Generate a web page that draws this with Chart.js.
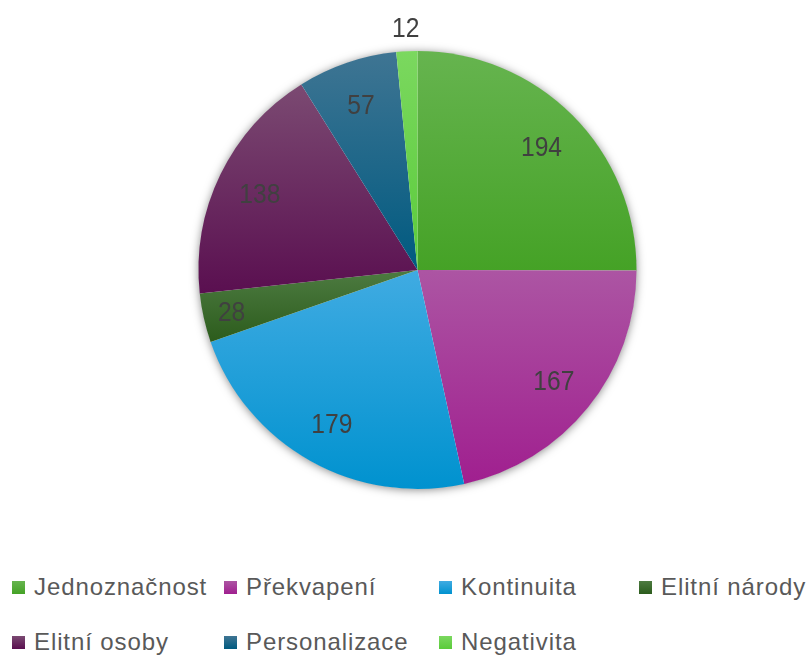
<!DOCTYPE html>
<html>
<head>
<meta charset="utf-8">
<script src="https://cdn.jsdelivr.net/npm/chart.js@4"></script>
<style>
  html, body { margin: 0; padding: 0; background: #ffffff; }
  body { width: 808px; height: 657px; position: relative; overflow: hidden; font-family: "Liberation Sans", Arial, sans-serif; }
  #wrap { position: absolute; left: 0; top: 0; width: 808px; height: 540px; }
  #legend { position: absolute; left: 12px; top: 574px; display: grid; grid-template-columns: 212px 215px 200px 200px; row-gap: 29px; }
  .item { display: flex; align-items: center; height: 26px; font-size: 24px; color: #595959; white-space: nowrap; letter-spacing: 0.9px; }
  .sw { width: 13px; height: 13px; margin-right: 9px; flex: none; }
  .tx { display: inline-block; }
</style>
</head>
<body>
<div id="wrap"><canvas id="c"></canvas></div>
<div id="legend"></div>
<script>
const categories = ["Jednoznačnost", "Překvapení", "Kontinuita", "Elitní národy", "Elitní osoby", "Personalizace", "Negativita"];
const values = [194, 167, 179, 28, 138, 57, 12];
const topColors = ["#66b44f", "#ac55a3", "#40abe2", "#4d7b41", "#7b4a72", "#3f7593", "#7bd85f"];
const bottomColors = ["#45a226", "#a01f8f", "#0092cf", "#2c5c1c", "#5a0f50", "#005a80", "#5acb3a"];
const baseColors = ["#4ea832", "#a42d96", "#18a0da", "#356a26", "#621a58", "#10628a", "#64cf45"];

const total = values.reduce((a, b) => a + b, 0);

function sliceGradient(ctx) {
  const chart = ctx.chart;
  const area = chart.chartArea;
  const i = ctx.dataIndex;
  if (!area || i === undefined) return baseColors[i] || "#888";
  const cx = (area.left + area.right) / 2;
  const cy = (area.top + area.bottom) / 2;
  const r = Math.min(area.right - area.left, area.bottom - area.top) / 2;
  let cum = 0;
  for (let k = 0; k < i; k++) cum += values[k];
  const a0 = cum / total * 2 * Math.PI;
  const a1 = (cum + values[i]) / total * 2 * Math.PI;
  const ys = [cy, cy - r * Math.cos(a0), cy - r * Math.cos(a1)];
  if (a0 <= 0.0001) ys.push(cy - r);
  if (a0 <= Math.PI && a1 >= Math.PI) ys.push(cy + r);
  if (a1 >= 2 * Math.PI - 0.0001) ys.push(cy - r);
  const y0 = Math.min(...ys), y1 = Math.max(...ys);
  const g = chart.ctx.createLinearGradient(0, y0, 0, y1);
  g.addColorStop(0, topColors[i]);
  g.addColorStop(1, bottomColors[i]);
  return g;
}

const shadowPlugin = {
  id: "pieShadow",
  beforeDatasetsDraw(chart) {
    const arc = chart.getDatasetMeta(0).data[0];
    if (!arc) return;
    const ctx = chart.ctx;
    ctx.save();
    ctx.shadowColor = "rgba(0,0,0,0.5)";
    ctx.shadowBlur = 10;
    ctx.shadowOffsetX = 0;
    ctx.shadowOffsetY = 1;
    ctx.fillStyle = "#ffffff";
    ctx.beginPath();
    ctx.arc(arc.x, arc.y, arc.outerRadius - 0.5, 0, Math.PI * 2);
    ctx.fill();
    ctx.restore();
  }
};

const labelPlugin = {
  id: "sliceLabels",
  afterDatasetsDraw(chart) {
    const ctx = chart.ctx;
    const meta = chart.getDatasetMeta(0);
    meta.data.forEach((arc, i) => {
      const mid = (arc.startAngle + arc.endAngle) / 2;
      const frac = values[i] / total;
      const k = frac < 0.02 ? 1.11 : (frac < 0.05 ? 0.87 : 0.8);
      const x = arc.x + Math.cos(mid) * arc.outerRadius * k;
      const y = arc.y + Math.sin(mid) * arc.outerRadius * k;
      ctx.save();
      ctx.translate(x, y);
      ctx.scale(0.88, 1);
      ctx.font = '28px "Liberation Sans", Arial, sans-serif';
      ctx.fillStyle = "#404040";
      ctx.textAlign = "center";
      ctx.textBaseline = "middle";
      ctx.fillText(String(values[i]), 0, 2);
      ctx.restore();
    });
  }
};

new Chart(document.getElementById("c"), {
  type: "pie",
  data: {
    labels: categories,
    datasets: [{
      data: values,
      backgroundColor: sliceGradient,
      borderWidth: 0
    }]
  },
  options: {
    responsive: true,
    maintainAspectRatio: false,
    animation: false,
    layout: { padding: { top: 51, bottom: 51, left: 27, right: 0 } },
    plugins: {
      legend: { display: false },
      tooltip: { enabled: false }
    }
  },
  plugins: [shadowPlugin, labelPlugin]
});

const legend = document.getElementById("legend");
categories.forEach((name, i) => {
  const item = document.createElement("div");
  item.className = "item";
  const sw = document.createElement("span");
  sw.className = "sw";
  sw.style.background = "linear-gradient(" + topColors[i] + "," + bottomColors[i] + ")";
  const t = document.createElement("span");
  t.className = "tx";
  t.textContent = name;
  item.appendChild(sw);
  item.appendChild(t);
  legend.appendChild(item);
});
</script>
</body>
</html>
